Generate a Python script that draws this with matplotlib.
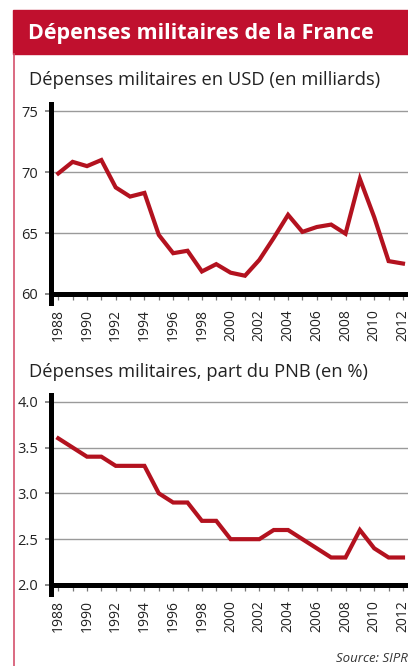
import matplotlib
matplotlib.use('Agg')
from matplotlib import pyplot as plt

YEARS = list(range(1988, 2013))
USD_BILLIONS = [69.9, 70.85, 70.5, 71.0, 68.75, 68.0, 68.3, 64.85, 63.35, 63.55,
                61.85, 62.45, 61.75, 61.5, 62.8, 64.6, 66.5, 65.1, 65.5, 65.7,
                64.95, 69.45, 66.3, 62.7, 62.5]
GDP_SHARE = [3.6, 3.5, 3.4, 3.4, 3.3, 3.3, 3.3, 3.0, 2.9, 2.9,
             2.7, 2.7, 2.5, 2.5, 2.5, 2.6, 2.6, 2.5, 2.4, 2.3,
             2.3, 2.6, 2.4, 2.3, 2.3]
YEAR_LABELS = list(range(1988, 2013, 2))

TITLE = 'Dépenses militaires de la France'
SUB1 = 'Dépenses militaires en USD (en milliards)'
SUB2 = 'Dépenses militaires, part du PNB (en %)'
SOURCE = 'Source: SIPRI'

RED = '#c0102e'
LINE_RED = '#b3121f'
FONT = 'Open Sans'

W, H = 408, 666
plt.rcParams['font.family'] = [FONT, 'DejaVu Sans']

fig = plt.figure(figsize=(W / 100, H / 100), dpi=100)


def fx(px):
    return px / W


def fy(py):
    return 1 - py / H


# banner + left rule
fig.patches.append(plt.Rectangle((fx(13), fy(54)), 1, (54 - 10) / H,
                                 transform=fig.transFigure, color=RED, zorder=0))
fig.add_artist(plt.Line2D([fx(14), fx(14)], [fy(54), 0], transform=fig.transFigure,
                          color='#d4506c', lw=1.2))
fig.text(fx(28), fy(33), TITLE, color='white', fontsize=15.5, fontweight='bold',
         va='center', ha='left')
fig.text(fx(29), fy(80), SUB1, fontsize=13.2, va='center', ha='left', color='#222222')
fig.text(fx(29), fy(372), SUB2, fontsize=13.2, va='center', ha='left', color='#222222')
fig.text(fx(411), fy(659), SOURCE, fontsize=9.5, style='italic', va='center', ha='right',
         color='#333333')


def make_axes(bottom_px, top_px, values, ylim, yticks, fmt):
    ax = fig.add_axes([fx(50.5), fy(bottom_px), 1 - fx(50.5), (bottom_px - top_px) / H])
    ax.plot(YEARS, values, color=LINE_RED, lw=3, solid_joinstyle='miter', zorder=3,
            clip_on=False)
    ax.set_xlim(1987.46, 2012.35)
    ax.set_ylim(*ylim)
    ax.set_yticks(yticks)
    ax.set_yticklabels([fmt.format(v) for v in yticks])
    ax.set_xticks(YEARS)
    ax.set_xticklabels([str(y) if y in YEAR_LABELS else '' for y in YEARS], rotation=90)
    ax.grid(axis='y', color='#9a9a9a', lw=1)
    ax.set_axisbelow(True)
    for s in ['top', 'right']:
        ax.spines[s].set_visible(False)
    ax.spines['left'].set_linewidth(3.6)
    ax.spines['bottom'].set_linewidth(3.6)
    span = ylim[1] - ylim[0]
    ax.spines['left'].set_bounds(ylim[0] - span * 0.045, ylim[1])
    ax.tick_params(axis='x', length=4, width=0.9, color='#777777', pad=7,
                   labelsize=10, labelcolor='#222222')
    ax.tick_params(axis='y', length=4, width=1.2, color='#777777', pad=5,
                   labelsize=10.5, labelcolor='#222222')
    for lbl in ax.get_xticklabels():
        lbl.set_va('top')
    return ax


make_axes(294, 104, USD_BILLIONS, (60, 75.6), [60, 65, 70, 75], '{:.0f}')
make_axes(585, 395, GDP_SHARE, (2.0, 4.073), [2.0, 2.5, 3.0, 3.5, 4.0], '{:.1f}')

fig.savefig('out.png', dpi=100)
